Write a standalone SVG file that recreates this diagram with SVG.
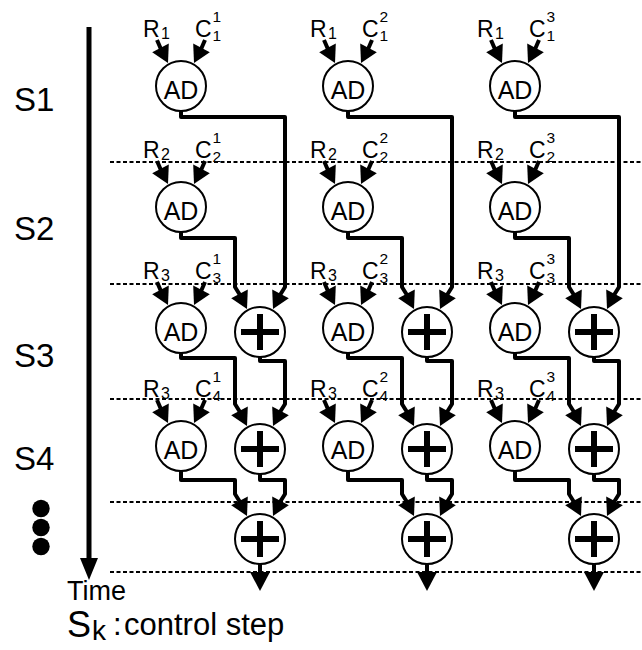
<svg xmlns="http://www.w3.org/2000/svg" xmlns:xlink="http://www.w3.org/1999/xlink" width="642" height="650" viewBox="0 0 642 650">
<style>
text{font-family:"Liberation Sans",Arial,Helvetica,sans-serif;fill:#000}
.step{font-size:33px}
.lb{font-size:23px}
.rs{font-size:16px}
.sp{font-size:15.5px}
.adt{font-size:25px;text-anchor:middle}
.node{fill:#fff;stroke:#000;stroke-width:2}
.plus{stroke:#000;stroke-width:6;fill:none}
.wire{fill:none;stroke:#000;stroke-width:4;stroke-linejoin:round}
.dot{stroke:#000;stroke-width:2;stroke-dasharray:4 2.5}
</style>
<defs>
<path id="ahL" d="M-13,-23 L-28.8,-33.8 L-12.2,-42.4 Z"/>
<path id="ahR" d="M13,-23 L28.8,-33.8 L12.2,-42.4 Z"/>
<g id="adIn">
<path class="wire" d="M-24,-46 L-20.2,-37.3 M24,-46 L20.2,-37.3"/>
<use xlink:href="#ahL" href="#ahL"/>
<use xlink:href="#ahR" href="#ahR"/>
</g>
</defs>
<rect width="642" height="650" fill="#fff"/>

<g id="step-lines">
<line class="dot" x1="110" y1="162" x2="642" y2="162"/>
<line class="dot" x1="110" y1="284" x2="642" y2="284"/>
<line class="dot" x1="110" y1="399" x2="642" y2="399"/>
<line class="dot" x1="110" y1="502" x2="642" y2="502"/>
<line class="dot" x1="110" y1="572" x2="642" y2="572"/>
</g>

<g id="time-axis">
<line x1="89" y1="27" x2="89" y2="562" stroke="#000" stroke-width="5"/>
<path d="M80,558 L98,558 L89,580 Z"/>
<text x="67" y="600" style="font-size:27px">Time</text>
</g>

<g id="step-labels">
<text class="step" x="14" y="111">S1</text>
<text class="step" x="14" y="240">S2</text>
<text class="step" x="14" y="367">S3</text>
<text class="step" x="14" y="470">S4</text>
<circle cx="41" cy="508.5" r="8.7"/>
<circle cx="41" cy="527.5" r="8.7"/>
<circle cx="41" cy="546.5" r="8.7"/>
</g>

<g id="legend">
<text x="67" y="637" style="font-size:36px">S</text>
<text x="92" y="640" style="font-size:28px">k</text>
<text x="113" y="635" style="font-size:31px">:</text>
<text x="124" y="635" style="font-size:31px">control step</text>
</g>

<g id="connectors">
<g id="wires-col1">
<path class="wire" d="M181,111 V117 H285 V287 L280.2,294.7"/>
<path class="wire" d="M181,232 V238 H235 V287 L239.8,294.7"/>
<path class="wire" d="M181,353 V358 H235 V404 L239.8,411.7"/>
<path class="wire" d="M260,357 V361 H285 V404 L280.2,411.7"/>
<path class="wire" d="M181,471 V480 H235 V494 L239.8,501.7"/>
<path class="wire" d="M260,474 V480 H285 V494 L280.2,501.7"/>
<path class="wire" d="M260,564 V574"/>
<path d="M250,572 L270,572 L260,591 Z"/>
<use href="#ahL" xlink:href="#ahL" x="260" y="332"/><use href="#ahR" xlink:href="#ahR" x="260" y="332"/>
<use href="#ahL" xlink:href="#ahL" x="260" y="449"/><use href="#ahR" xlink:href="#ahR" x="260" y="449"/>
<use href="#ahL" xlink:href="#ahL" x="260" y="539"/><use href="#ahR" xlink:href="#ahR" x="260" y="539"/>
<use href="#adIn" xlink:href="#adIn" x="181" y="86"/>
<use href="#adIn" xlink:href="#adIn" x="181" y="207"/>
<use href="#adIn" xlink:href="#adIn" x="181" y="328"/>
<use href="#adIn" xlink:href="#adIn" x="181" y="446"/>
</g>
<g id="wires-col2" transform="translate(167,0)">
<path class="wire" d="M181,111 V117 H285 V287 L280.2,294.7"/>
<path class="wire" d="M181,232 V238 H235 V287 L239.8,294.7"/>
<path class="wire" d="M181,353 V358 H235 V404 L239.8,411.7"/>
<path class="wire" d="M260,357 V361 H285 V404 L280.2,411.7"/>
<path class="wire" d="M181,471 V480 H235 V494 L239.8,501.7"/>
<path class="wire" d="M260,474 V480 H285 V494 L280.2,501.7"/>
<path class="wire" d="M260,564 V574"/>
<path d="M250,572 L270,572 L260,591 Z"/>
<use href="#ahL" xlink:href="#ahL" x="260" y="332"/><use href="#ahR" xlink:href="#ahR" x="260" y="332"/>
<use href="#ahL" xlink:href="#ahL" x="260" y="449"/><use href="#ahR" xlink:href="#ahR" x="260" y="449"/>
<use href="#ahL" xlink:href="#ahL" x="260" y="539"/><use href="#ahR" xlink:href="#ahR" x="260" y="539"/>
<use href="#adIn" xlink:href="#adIn" x="181" y="86"/>
<use href="#adIn" xlink:href="#adIn" x="181" y="207"/>
<use href="#adIn" xlink:href="#adIn" x="181" y="328"/>
<use href="#adIn" xlink:href="#adIn" x="181" y="446"/>
</g>
<g id="wires-col3" transform="translate(334,0)">
<path class="wire" d="M181,111 V117 H285 V287 L280.2,294.7"/>
<path class="wire" d="M181,232 V238 H235 V287 L239.8,294.7"/>
<path class="wire" d="M181,353 V358 H235 V404 L239.8,411.7"/>
<path class="wire" d="M260,357 V361 H285 V404 L280.2,411.7"/>
<path class="wire" d="M181,471 V480 H235 V494 L239.8,501.7"/>
<path class="wire" d="M260,474 V480 H285 V494 L280.2,501.7"/>
<path class="wire" d="M260,564 V574"/>
<path d="M250,572 L270,572 L260,591 Z"/>
<use href="#ahL" xlink:href="#ahL" x="260" y="332"/><use href="#ahR" xlink:href="#ahR" x="260" y="332"/>
<use href="#ahL" xlink:href="#ahL" x="260" y="449"/><use href="#ahR" xlink:href="#ahR" x="260" y="449"/>
<use href="#ahL" xlink:href="#ahL" x="260" y="539"/><use href="#ahR" xlink:href="#ahR" x="260" y="539"/>
<use href="#adIn" xlink:href="#adIn" x="181" y="86"/>
<use href="#adIn" xlink:href="#adIn" x="181" y="207"/>
<use href="#adIn" xlink:href="#adIn" x="181" y="328"/>
<use href="#adIn" xlink:href="#adIn" x="181" y="446"/>
</g>
</g>

<g id="input-labels">
<text class="lb" x="143" y="37">R</text><text class="rs" x="161" y="39">1</text>
<text class="lb" x="195" y="37">C</text><text class="sp" x="212.5" y="22">1</text><text class="sp" x="212.5" y="41">1</text>
<text class="lb" x="143" y="158">R</text><text class="rs" x="161" y="160">2</text>
<text class="lb" x="195" y="158">C</text><text class="sp" x="212.5" y="143">1</text><text class="sp" x="212.5" y="162">2</text>
<text class="lb" x="143" y="279">R</text><text class="rs" x="161" y="281">3</text>
<text class="lb" x="195" y="279">C</text><text class="sp" x="212.5" y="264">1</text><text class="sp" x="212.5" y="283">3</text>
<text class="lb" x="143" y="397">R</text><text class="rs" x="161" y="399">3</text>
<text class="lb" x="195" y="397">C</text><text class="sp" x="212.5" y="382">1</text><text class="sp" x="212.5" y="401">4</text>

<text class="lb" x="310" y="37">R</text><text class="rs" x="328" y="39">1</text>
<text class="lb" x="362" y="37">C</text><text class="sp" x="379.5" y="22">2</text><text class="sp" x="379.5" y="41">1</text>
<text class="lb" x="310" y="158">R</text><text class="rs" x="328" y="160">2</text>
<text class="lb" x="362" y="158">C</text><text class="sp" x="379.5" y="143">2</text><text class="sp" x="379.5" y="162">2</text>
<text class="lb" x="310" y="279">R</text><text class="rs" x="328" y="281">3</text>
<text class="lb" x="362" y="279">C</text><text class="sp" x="379.5" y="264">2</text><text class="sp" x="379.5" y="283">3</text>
<text class="lb" x="310" y="397">R</text><text class="rs" x="328" y="399">3</text>
<text class="lb" x="362" y="397">C</text><text class="sp" x="379.5" y="382">2</text><text class="sp" x="379.5" y="401">4</text>

<text class="lb" x="477" y="37">R</text><text class="rs" x="495" y="39">1</text>
<text class="lb" x="529" y="37">C</text><text class="sp" x="546.5" y="22">3</text><text class="sp" x="546.5" y="41">1</text>
<text class="lb" x="477" y="158">R</text><text class="rs" x="495" y="160">2</text>
<text class="lb" x="529" y="158">C</text><text class="sp" x="546.5" y="143">3</text><text class="sp" x="546.5" y="162">2</text>
<text class="lb" x="477" y="279">R</text><text class="rs" x="495" y="281">3</text>
<text class="lb" x="529" y="279">C</text><text class="sp" x="546.5" y="264">3</text><text class="sp" x="546.5" y="283">3</text>
<text class="lb" x="477" y="397">R</text><text class="rs" x="495" y="399">3</text>
<text class="lb" x="529" y="397">C</text><text class="sp" x="546.5" y="382">3</text><text class="sp" x="546.5" y="401">4</text>
</g>

<g id="ad-1-1"><circle class="node" cx="181" cy="86" r="25"/><text class="adt" x="181" y="99">AD</text></g>
<g id="ad-1-2"><circle class="node" cx="181" cy="207" r="25"/><text class="adt" x="181" y="220">AD</text></g>
<g id="ad-1-3"><circle class="node" cx="181" cy="328" r="25"/><text class="adt" x="181" y="341">AD</text></g>
<g id="ad-1-4"><circle class="node" cx="181" cy="446" r="25"/><text class="adt" x="181" y="459">AD</text></g>
<g id="add-1-3"><circle class="node" cx="260" cy="332" r="25"/><path class="plus" d="M241,332 H279 M260,314 V350"/></g>
<g id="add-1-4"><circle class="node" cx="260" cy="449" r="25"/><path class="plus" d="M241,449 H279 M260,431 V467"/></g>
<g id="add-1-5"><circle class="node" cx="260" cy="539" r="25"/><path class="plus" d="M241,539 H279 M260,521 V557"/></g>

<g id="ad-2-1"><circle class="node" cx="348" cy="86" r="25"/><text class="adt" x="348" y="99">AD</text></g>
<g id="ad-2-2"><circle class="node" cx="348" cy="207" r="25"/><text class="adt" x="348" y="220">AD</text></g>
<g id="ad-2-3"><circle class="node" cx="348" cy="328" r="25"/><text class="adt" x="348" y="341">AD</text></g>
<g id="ad-2-4"><circle class="node" cx="348" cy="446" r="25"/><text class="adt" x="348" y="459">AD</text></g>
<g id="add-2-3"><circle class="node" cx="427" cy="332" r="25"/><path class="plus" d="M408,332 H446 M427,314 V350"/></g>
<g id="add-2-4"><circle class="node" cx="427" cy="449" r="25"/><path class="plus" d="M408,449 H446 M427,431 V467"/></g>
<g id="add-2-5"><circle class="node" cx="427" cy="539" r="25"/><path class="plus" d="M408,539 H446 M427,521 V557"/></g>

<g id="ad-3-1"><circle class="node" cx="515" cy="86" r="25"/><text class="adt" x="515" y="99">AD</text></g>
<g id="ad-3-2"><circle class="node" cx="515" cy="207" r="25"/><text class="adt" x="515" y="220">AD</text></g>
<g id="ad-3-3"><circle class="node" cx="515" cy="328" r="25"/><text class="adt" x="515" y="341">AD</text></g>
<g id="ad-3-4"><circle class="node" cx="515" cy="446" r="25"/><text class="adt" x="515" y="459">AD</text></g>
<g id="add-3-3"><circle class="node" cx="594" cy="332" r="25"/><path class="plus" d="M575,332 H613 M594,314 V350"/></g>
<g id="add-3-4"><circle class="node" cx="594" cy="449" r="25"/><path class="plus" d="M575,449 H613 M594,431 V467"/></g>
<g id="add-3-5"><circle class="node" cx="594" cy="539" r="25"/><path class="plus" d="M575,539 H613 M594,521 V557"/></g>
</svg>
